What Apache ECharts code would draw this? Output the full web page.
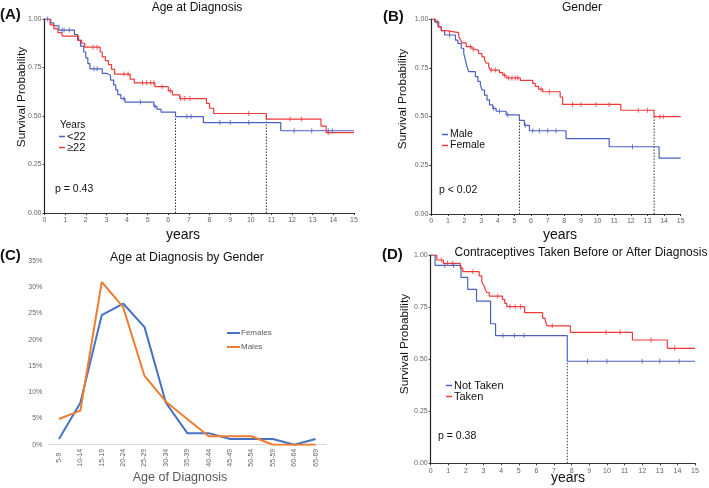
<!DOCTYPE html>
<html><head><meta charset="utf-8">
<script src="https://cdn.jsdelivr.net/npm/echarts@6/dist/echarts.min.js"></script>
<style>html,body{margin:0;padding:0;background:#fff}#c{width:709px;height:488px}</style>
</head><body><div id="c"></div>
<script>
// ---------- Panel A: Age at Diagnosis ----------
const aYoungT = [0, 0.3, 0.45, 0.7, 1.45, 1.6, 1.75, 1.9, 2.0, 2.1, 2.2, 2.8, 3.0, 3.2, 3.35, 3.45, 3.55, 3.7, 3.9, 5.3, 5.45, 5.65, 6.35, 7.7, 11.45, 15];
const aYoungS = [1, 0.98, 0.965, 0.943, 0.92, 0.89, 0.86, 0.83, 0.80, 0.77, 0.743, 0.72, 0.71, 0.685, 0.66, 0.635, 0.61, 0.59, 0.572, 0.55, 0.535, 0.52, 0.497, 0.466, 0.424, 0.424];
const aYoungCens = [0.15, 0.85, 0.95, 1.2, 2.4, 2.55, 3.85, 4.65, 5.35, 6.9, 7.1, 8.5, 9.0, 9.9, 12.1, 12.95, 13.75, 13.95];
const aOldT = [0, 0.27, 0.45, 0.65, 0.85, 1.65, 1.8, 1.95, 2.7, 2.8, 2.95, 3.1, 3.25, 3.4, 4.15, 4.35, 5.35, 6.0, 6.2, 6.55, 7.85, 8.0, 8.2, 10.75, 13.4, 13.65, 15];
const aOldS = [1, 0.97, 0.95, 0.93, 0.912, 0.89, 0.875, 0.855, 0.83, 0.805, 0.785, 0.765, 0.74, 0.716, 0.69, 0.671, 0.651, 0.63, 0.609, 0.59, 0.565, 0.54, 0.513, 0.484, 0.448, 0.414, 0.414];
const aOldCens = [2.35, 2.55, 3.85, 4.05, 4.75, 4.95, 5.15, 5.3, 5.7, 6.1, 6.6, 6.8, 7.05, 9.9, 11.9, 12.45, 13.75];
const aMedianT = [6.35, 10.75];
const aMedianS = [0.5, 0.5];

// ---------- Panel B: Gender ----------
const bMaleT = [0, 0.2, 0.4, 0.6, 0.8, 1.45, 1.6, 1.8, 1.95, 2.05, 2.15, 2.25, 2.65, 2.8, 2.95, 3.05, 3.2, 3.35, 3.5, 3.7, 3.9, 4.5, 5.3, 5.6, 5.9, 8.1, 10.7, 13.7, 15];
const bMaleS = [1, 0.985, 0.96, 0.94, 0.918, 0.892, 0.875, 0.85, 0.824, 0.79, 0.755, 0.73, 0.705, 0.68, 0.662, 0.636, 0.61, 0.585, 0.56, 0.542, 0.527, 0.508, 0.48, 0.455, 0.427, 0.387, 0.345, 0.287, 0.287];
const bMaleCens = [0.35, 1.1, 3.75, 4.1, 4.6, 5.65, 6.1, 6.5, 7.0, 7.5, 12.1];
const bFemaleT = [0, 0.25, 0.45, 0.6, 0.9, 1.65, 1.75, 1.85, 2.1, 2.45, 2.65, 2.85, 3.05, 3.2, 3.3, 3.45, 3.55, 4.1, 4.3, 4.5, 5.35, 6.1, 6.25, 6.45, 6.7, 7.75, 7.9, 11.4, 13.4, 15];
const bFemaleS = [1, 0.985, 0.96, 0.94, 0.93, 0.91, 0.895, 0.878, 0.858, 0.845, 0.838, 0.822, 0.806, 0.79, 0.773, 0.755, 0.738, 0.725, 0.712, 0.698, 0.685, 0.67, 0.655, 0.64, 0.627, 0.6, 0.562, 0.532, 0.499, 0.499];
const bFemaleCens = [1.1, 2.35, 2.55, 3.6, 3.85, 4.4, 4.65, 4.85, 5.05, 5.2, 6.6, 7.1, 8.5, 9.0, 9.9, 10.7, 12.45, 13.0, 13.75, 13.95];
const bMedianT = [5.3, 13.4];
const bMedianS = [0.5, 0.5];

// ---------- Panel C: Age at Diagnosis by Gender ----------
const cAgeGroups = ['5-9', '10-14', '15-19', '20-24', '25-29', '30-34', '35-39', '40-44', '45-49', '50-54', '55-59', '60-64', '65-69'];
const cFemales = [1.1, 8.0, 24.7, 26.9, 22.4, 8.0, 2.2, 2.2, 1.1, 1.1, 1.1, 0, 1.1];
const cMales = [4.9, 6.5, 31.0, 26.2, 13.1, 8.2, 4.9, 1.6, 1.6, 1.6, 0, 0, 0];
const cPercentTicks = [0, 5, 10, 15, 20, 25, 30, 35];

// ---------- Panel D: Contraceptives ----------
const dNotT = [0, 0.25, 1.72, 2.1, 2.6, 3.4, 3.68, 7.75, 15];
const dNotS = [1, 0.95, 0.893, 0.835, 0.779, 0.67, 0.613, 0.49, 0.49];
const dNotCens = [0.8, 1.3, 4.1, 4.75, 5.3, 8.9, 10.0, 12.0, 13.0, 14.1];
const dTakenT = [0, 0.35, 0.72, 1.68, 1.82, 2.75, 2.9, 3.0, 3.1, 3.18, 3.32, 4.07, 4.2, 4.32, 5.33, 6.35, 6.5, 6.6, 7.93, 11.45, 13.43, 15];
const dTakenS = [1, 0.976, 0.96, 0.937, 0.92, 0.9, 0.872, 0.856, 0.835, 0.82, 0.803, 0.787, 0.768, 0.752, 0.723, 0.696, 0.683, 0.66, 0.629, 0.592, 0.552, 0.552];
const dTakenCens = [0.6, 0.95, 1.25, 2.4, 3.8, 4.5, 4.8, 5.1, 6.9, 9.95, 10.75, 12.5, 13.85];
const dMedianT = [7.75];
const dMedianS = [0.49];

const BLUE = '#4d60c2', RED = '#f03a3a';
const FONT = 'Liberation Sans, Arial, Helvetica, sans-serif';

function pairs(T, S) { return T.map((t, i) => [t, S[i]]); }
function survAt(T, S, t) { let v = S[0]; for (let i = 0; i < T.length; i++) { if (T[i] <= t) v = S[i]; } return v; }

const grids = [
  { left: 44.5, top: 19, width: 309.5, height: 194 },
  { left: 431.3, top: 19, width: 249.4, height: 195 },
  { left: 48.3, top: 261, width: 278, height: 183.7 },
  { left: 430.7, top: 255, width: 264.3, height: 208.3 }
];

function kmX(g) {
  return { type: 'value', gridIndex: g, min: 0, max: 15, interval: 1,
    axisLine: { show: true, onZero: false, lineStyle: { color: '#333', width: 1 } },
    axisTick: { show: true, length: 2, lineStyle: { color: '#333' } },
    axisLabel: { fontSize: 7, color: '#666', margin: 4, fontFamily: FONT },
    splitLine: { show: false } };
}
function kmY(g) {
  return { type: 'value', gridIndex: g, min: 0, max: 1, interval: 0.25,
    axisLine: { show: true, lineStyle: { color: '#222', width: 1.2 } },
    axisTick: { show: true, length: 2, lineStyle: { color: '#333' } },
    axisLabel: { fontSize: 7, color: '#666', margin: 3, fontFamily: FONT, formatter: v => v.toFixed(2) },
    splitLine: { show: false } };
}

function kmSeries(name, g, T, S, cens, color) {
  return [
    { name: name, type: 'line', xAxisIndex: g, yAxisIndex: g, step: 'end', showSymbol: false,
      data: pairs(T, S), lineStyle: { color: color, width: 1.2 }, itemStyle: { color: color }, z: 3 },
    { name: name + ' censored', type: 'scatter', xAxisIndex: g, yAxisIndex: g, symbol: 'rect', symbolSize: [1, 5],
      data: cens.map(t => [t, survAt(T, S, t)]), itemStyle: { color: color, opacity: 0.8 }, z: 4 }
  ];
}
function medianSeries(g, T, S) {
  return T.map((t, i) => ({ type: 'line', xAxisIndex: g, yAxisIndex: g, showSymbol: false, silent: true,
    data: [[t, 0], [t, S[i]]], lineStyle: { color: '#333', width: 1, type: [1.5, 1.5] }, z: 2 }));
}

const series = [].concat(
  kmSeries('<22', 0, aYoungT, aYoungS, aYoungCens, BLUE),
  kmSeries('≥22', 0, aOldT, aOldS, aOldCens, RED),
  medianSeries(0, aMedianT, aMedianS),
  kmSeries('Male', 1, bMaleT, bMaleS, bMaleCens, BLUE),
  kmSeries('Female', 1, bFemaleT, bFemaleS, bFemaleCens, RED),
  medianSeries(1, bMedianT, bMedianS),
  [
    { name: 'Females', type: 'line', xAxisIndex: 2, yAxisIndex: 2, data: cFemales, showSymbol: false,
      lineStyle: { color: '#4472C4', width: 2 }, itemStyle: { color: '#4472C4' } },
    { name: 'Males', type: 'line', xAxisIndex: 2, yAxisIndex: 2, data: cMales, showSymbol: false,
      lineStyle: { color: '#ED7D31', width: 2 }, itemStyle: { color: '#ED7D31' } }
  ],
  kmSeries('Not Taken', 3, dNotT, dNotS, dNotCens, BLUE),
  kmSeries('Taken', 3, dTakenT, dTakenS, dTakenCens, RED),
  medianSeries(3, dMedianT, dMedianS)
);

function txt(x, y, text, size, opts) {
  opts = opts || {};
  return { type: 'text', x: x, y: y, rotation: opts.rot || 0, silent: true,
    style: { text: text, fill: opts.color || '#111', font: (opts.bold ? 'bold ' : '') + size + 'px ' + FONT,
      align: opts.align || 'left', verticalAlign: 'middle', textAlign: opts.align || 'left', textVerticalAlign: 'middle' } };
}

const legendBase = { orient: 'vertical', icon: 'rect', itemWidth: 6, itemHeight: 1.5, itemGap: 0,
  selectedMode: false, padding: 0, textStyle: { fontSize: 11, color: '#111', fontFamily: FONT, padding: [0, 0, 0, -3] } };

const option = {
  animation: false,
  backgroundColor: '#fff',
  grid: grids,
  xAxis: [kmX(0), kmX(1),
    { type: 'category', gridIndex: 2, data: cAgeGroups, boundaryGap: true,
      axisLine: { show: true, lineStyle: { color: '#d9d9d9' } }, axisTick: { show: false },
      axisLabel: { rotate: 90, fontSize: 7, color: '#666', margin: 13, align: 'center', verticalAlign: 'middle', fontFamily: FONT } },
    kmX(3)],
  yAxis: [kmY(0), kmY(1),
    { type: 'value', gridIndex: 2, min: cPercentTicks[0], max: cPercentTicks[cPercentTicks.length - 1], interval: 5,
      axisLine: { show: false }, axisTick: { show: false }, splitLine: { show: false },
      axisLabel: { fontSize: 7, color: '#666', margin: 6, formatter: '{value}%', fontFamily: FONT } },
    kmY(3)],
  legend: [
    Object.assign({}, legendBase, { data: ['<22', '≥22'], left: 59, top: 131 }),
    Object.assign({}, legendBase, { data: ['Male', 'Female'], left: 442, top: 129, textStyle: { fontSize: 10.5, color: '#111', fontFamily: FONT, padding: [0, 0, 0, -3] } }),
    Object.assign({}, legendBase, { data: ['Not Taken', 'Taken'], left: 446, top: 380, textStyle: { fontSize: 11, color: '#111', fontFamily: FONT, padding: [0, 0, 0, -3] } }),
    { data: ['Females', 'Males'], orient: 'vertical', left: 227, top: 329, icon: 'rect', itemWidth: 13, itemHeight: 2, itemGap: 6,
      selectedMode: false, padding: 0, textStyle: { fontSize: 8, color: '#595959', fontFamily: FONT, padding: [0, 0, 0, -4] } }
  ],
  graphic: [
    txt(197, 8, 'Age at Diagnosis', 12, { align: 'center' }),
    txt(582, 8, 'Gender', 12, { align: 'center' }),
    txt(187, 258, 'Age at Diagnosis by Gender', 12.3, { align: 'center' }),
    txt(581, 253, 'Contraceptives Taken Before or After Diagnosis', 12, { align: 'center' }),
    txt(0, 15, '(A)', 15, { bold: true }),
    txt(383, 17, '(B)', 15, { bold: true }),
    txt(0, 256, '(C)', 15, { bold: true }),
    txt(382, 255, '(D)', 15, { bold: true }),
    txt(21.5, 97, 'Survival Probability', 11.8, { align: 'center', rot: Math.PI / 2 }),
    txt(403, 99, 'Survival Probability', 11.8, { align: 'center', rot: Math.PI / 2 }),
    txt(405, 344, 'Survival Probability', 11.8, { align: 'center', rot: Math.PI / 2 }),
    txt(183, 235, 'years', 14, { align: 'center' }),
    txt(560, 235, 'years', 14, { align: 'center' }),
    txt(568, 478, 'years', 14, { align: 'center' }),
    txt(180, 478, 'Age of Diagnosis', 12.5, { align: 'center', color: '#595959' }),
    txt(60, 125, 'Years', 10),
    txt(55, 189, 'p = 0.43', 10.5),
    txt(439, 190, 'p < 0.02', 10.5),
    txt(438, 436, 'p = 0.38', 10.5)
  ],
  series: series
};

const chart = echarts.init(document.getElementById('c'), null, { renderer: 'canvas' });
chart.setOption(option);
</script>
</body></html>
